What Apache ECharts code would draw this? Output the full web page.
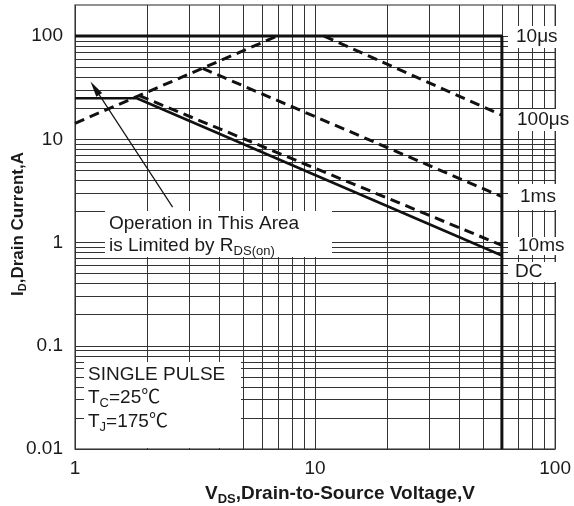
<!DOCTYPE html>
<html>
<head>
<meta charset="utf-8">
<script src="https://cdn.jsdelivr.net/npm/echarts@6/dist/echarts.min.js"></script>
<style>
html,body{margin:0;padding:0;background:#fff;}
#c{width:574px;height:506px;}
</style>
</head>
<body>
<div id="c"></div>
<script>
// ---- data ----
const xMin = 1, xMax = 100;
const yMin = 0.01, yMax = 200;
const xDecades = [1, 10];
const yDecades = [0.01, 0.1, 1, 10, 100];
const minorMultiples = [1, 2, 3, 4, 5, 6, 7, 8, 9];
const xTickLabels = ['1', '10', '100'];
const yTickLabels = ['0.01', '0.1', '1', '10', '100'];

const rdsLimit = [[1, 14.3], [6.95, 100]];
const tenUs = [[1, 100], [60, 100], [60, 0.01]];
const hundredUs = [[10.9, 100], [60, 17.1]];
const oneMs = [[3.4, 48.6], [60, 2.78]];
const tenMs = [[1.85, 26.5], [60, 0.94]];
const dcLine = [[1, 25], [1.81, 25], [60, 0.75]];
const arrowLine = [[2.55, 2.2], [1.21, 31.3]];

// grid line values (ticks)
const xGrid = [];
xDecades.forEach(d => minorMultiples.forEach(m => xGrid.push(d * m)));
xGrid.push(100);
const yGrid = [];
yDecades.slice(0, 4).forEach(d => minorMultiples.forEach(m => yGrid.push(d * m)));
yGrid.push(100);

const FONT = '"Liberation Sans", Arial, "Noto Sans CJK SC", sans-serif';

function labelFor(v, list, start) {
  const l = Math.log10(v);
  const r = Math.round(l);
  if (Math.abs(l - r) > 1e-6) return '';
  const idx = r - start;
  return list[idx] !== undefined ? list[idx] : '';
}

const chart = echarts.init(document.getElementById('c'), null, {renderer: 'canvas'});

const gridLineStyle = {color: '#333', width: 1, type: 'solid'};
const gridMarks = [];
xGrid.forEach(v => gridMarks.push({xAxis: v}));
yGrid.forEach(v => gridMarks.push({yAxis: v}));

function dashed(name, data) {
  return {
    name, type: 'line', data, symbol: 'none', z: 5,
    lineStyle: {color: '#111', width: 3, type: [10, 6]}
  };
}

const rect = (x, y, w, h) => ({
  type: 'rect', z: 100, silent: true,
  shape: {x, y, width: w, height: h},
  style: {fill: '#fff'}
});
const txt = (x, y, text, rich, extra) => Object.assign({
  type: 'text', z: 101, silent: true, x, y,
  style: Object.assign({
    text, fill: '#1a1a1a', font: '19px ' + FONT,
    textVerticalAlign: 'middle', textAlign: 'left', rich: rich || {}
  }, extra || {})
});

const subRich = (main, sub, bold) => ({
  n: {fontSize: main, fontFamily: FONT, fontWeight: bold ? 'bold' : 'normal', color: '#1a1a1a', lineHeight: main + 4},
  s: {fontSize: sub, fontFamily: FONT, fontWeight: bold ? 'bold' : 'normal', color: '#1a1a1a', lineHeight: sub, verticalAlign: 'bottom'}
});

chart.setOption({
  animation: false,
  backgroundColor: '#fff',
  grid: {left: 75, right: 17, top: 5, bottom: 57, show: true, borderColor: '#6e6e6e', borderWidth: 1.5, backgroundColor: 'transparent'},
  xAxis: {
    type: 'log', logBase: 10, min: xMin, max: xMax,
    axisLine: {show: false}, axisTick: {show: false}, splitLine: {show: false},
    axisLabel: {
      fontSize: 19, color: '#1a1a1a', fontFamily: FONT, margin: 10,
      formatter: v => labelFor(v, xTickLabels, 0)
    }
  },
  yAxis: {
    type: 'log', logBase: 10, min: yMin, max: yMax,
    axisLine: {show: false}, axisTick: {show: false}, splitLine: {show: false},
    axisLabel: {
      fontSize: 19, color: '#1a1a1a', fontFamily: FONT, margin: 12,
      formatter: v => labelFor(v, yTickLabels, -2)
    }
  },
  series: [
    {
      name: 'grid', type: 'line', data: [[1, 1]], symbol: 'none', z: 1,
      lineStyle: {opacity: 0}, silent: true,
      markLine: {
        silent: true, symbol: ['none', 'none'], animation: false,
        label: {show: false}, lineStyle: gridLineStyle, emphasis: {disabled: true},
        data: gridMarks
      }
    },
    dashed('rds', rdsLimit),
    dashed('100us', hundredUs),
    dashed('1ms', oneMs),
    dashed('10ms', tenMs),
    {name: '10us', type: 'line', data: tenUs, symbol: 'none', z: 6, lineStyle: {color: '#111', width: 3}},
    {name: 'DC', type: 'line', data: dcLine, symbol: 'none', z: 6, lineStyle: {color: '#111', width: 2.6}},
    {
      name: 'arrow', type: 'line', data: [], symbol: 'none', z: 7,
      markLine: {
        silent: true, animation: false, symbol: ['none', 'triangle'], symbolSize: [7, 16],
        label: {show: false}, lineStyle: {color: '#111', width: 1.2, type: 'solid'},
        data: [[{coord: arrowLine[0]}, {coord: arrowLine[1]}]]
      }
    }
  ],
  graphic: [
    // white label boxes
    rect(105, 211, 227, 46),
    rect(84, 362, 157, 86),
    rect(508, 26, 48, 22),
    rect(508, 109, 48, 22),
    rect(508, 184, 48, 26),
    rect(508, 237, 48, 18),
    rect(508, 262, 48, 20),
    // annotations
    txt(109, 224, 'Operation in This Area'),
    txt(109, 246, '{n|is Limited by R}{s|DS(on)}', subRich(19, 13, false)),
    txt(88, 375, 'SINGLE PULSE'),
    txt(88, 398, '{n|T}{s|C}{n|=25℃}', subRich(19, 13, false)),
    txt(88, 422, '{n|T}{s|J}{n|=175℃}', subRich(19, 13, false)),
    // curve labels
    txt(516, 37, '10μs'),
    txt(517, 120, '100μs'),
    txt(520, 197, '1ms'),
    txt(518, 246, '10ms'),
    txt(515, 272, 'DC'),
    // axis titles
    txt(340, 494, '{n|V}{s|DS}{n|,Drain-to-Source Voltage,V}', subRich(19, 13, true), {textAlign: 'center'}),
    Object.assign(txt(18, 224, '{n|I}{s|D}{n|,Drain Current,A}', subRich(17, 11, true), {textAlign: 'center'}), {rotation: Math.PI / 2})
  ]
});
</script>
</body>
</html>
